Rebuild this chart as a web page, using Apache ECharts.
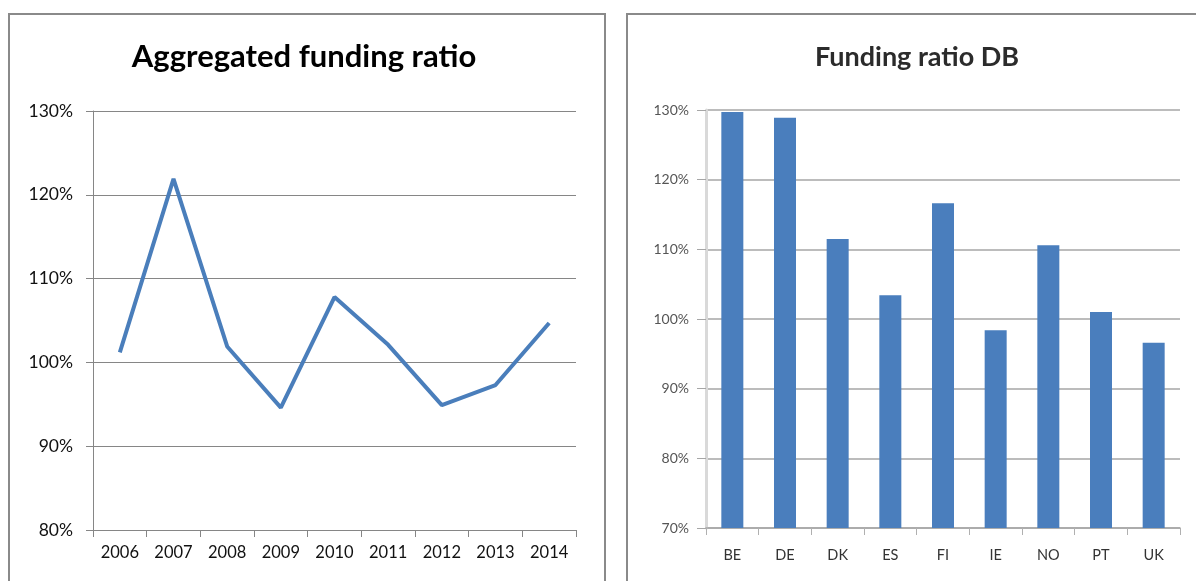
<!DOCTYPE html>
<html><head><meta charset="utf-8">
<script src="https://cdn.jsdelivr.net/npm/echarts@6/dist/echarts.min.js"></script>
<style>html,body{margin:0;padding:0;background:#fff;overflow:hidden}#c{width:1196px;height:581px}</style>
</head><body><div id="c"></div>
<script>
// ---- data ----
const leftTitle = 'Aggregated funding ratio';
const rightTitle = 'Funding ratio DB';
const years = ['2006','2007','2008','2009','2010','2011','2012','2013','2014'];
const aggregatedRatio = [101.2, 121.9, 101.9, 94.6, 107.8, 102.1, 94.9, 97.3, 104.7];
const countries = ['BE','DE','DK','ES','FI','IE','NO','PT','UK'];
const dbRatio = [129.7, 128.9, 111.5, 103.4, 116.6, 98.4, 110.6, 101.0, 96.6];
const leftYTicks = [80, 90, 100, 110, 120, 130];
const rightYTicks = [70, 80, 90, 100, 110, 120, 130];

const chart = echarts.init(document.getElementById('c'), null, {renderer: 'canvas'});
const pct = v => v + '%';
const font = 'Lato, "Open Sans", sans-serif';

chart.setOption({
  animation: false,
  backgroundColor: '#ffffff',
  graphic: [
    {type: 'rect', shape: {x: 9, y: 14, width: 596, height: 620}, style: {fill: 'none', stroke: '#8a8a8a', lineWidth: 2}, z: 100},
    {type: 'rect', shape: {x: 627, y: 14, width: 620, height: 620}, style: {fill: 'none', stroke: '#8a8a8a', lineWidth: 2}, z: 100}
  ],
  title: [
    {text: leftTitle, left: 299, top: 36, textAlign: 'center',
     textStyle: {fontFamily: font, fontWeight: 'bold', fontSize: 31, color: '#000'}},
    {text: rightTitle, left: 912, top: 39, textAlign: 'center',
     textStyle: {fontFamily: font, fontWeight: 'bold', fontSize: 27, color: '#2b2b2b'}}
  ],
  grid: [
    {left: 93, right: 620, top: 111, bottom: 51},
    {left: 706, right: 16, top: 110, bottom: 53}
  ],
  xAxis: [
    {type: 'category', gridIndex: 0, data: years, boundaryGap: true,
     axisLine: {lineStyle: {color: '#868686', width: 1}},
     axisTick: {show: true, length: 7, lineStyle: {color: '#868686'}},
     axisLabel: {margin: 14, fontFamily: font, fontSize: 16.5, color: '#111'}},
    {type: 'category', gridIndex: 1, data: countries, boundaryGap: true,
     axisLine: {lineStyle: {color: '#a6a6a6', width: 1.5}},
     axisTick: {show: true, length: 7, lineStyle: {color: '#b0b0b0'}},
     axisLabel: {margin: 20, fontFamily: font, fontSize: 14.5, color: '#333'}}
  ],
  yAxis: [
    {type: 'value', gridIndex: 0, min: leftYTicks[0], max: leftYTicks[leftYTicks.length-1],
     interval: leftYTicks[1]-leftYTicks[0],
     axisLine: {show: true, lineStyle: {color: '#868686', width: 1}},
     axisTick: {show: true, length: 7, lineStyle: {color: '#868686'}},
     splitLine: {lineStyle: {color: '#868686', width: 1}},
     axisLabel: {formatter: pct, margin: 20, fontFamily: font, fontSize: 17.5, color: '#111'}},
    {type: 'value', gridIndex: 1, min: rightYTicks[0], max: rightYTicks[rightYTicks.length-1],
     interval: rightYTicks[1]-rightYTicks[0],
     axisLine: {show: true, lineStyle: {color: '#d9d9d9', width: 3}},
     axisTick: {show: true, length: 9, lineStyle: {color: '#a6a6a6'}},
     splitLine: {lineStyle: {color: '#a6a6a6', width: 1.5}},
     axisLabel: {formatter: pct, margin: 17, fontFamily: font, fontSize: 14, color: '#555'}}
  ],
  series: [
    {type: 'line', xAxisIndex: 0, yAxisIndex: 0, data: aggregatedRatio,
     symbol: 'none', lineStyle: {color: '#4a7ebb', width: 4}, itemStyle: {color: '#4a7ebb'}},
    {type: 'bar', xAxisIndex: 1, yAxisIndex: 1, data: dbRatio, barWidth: 22,
     itemStyle: {color: '#4a7ebd'}}
  ]
});
</script></body></html>
